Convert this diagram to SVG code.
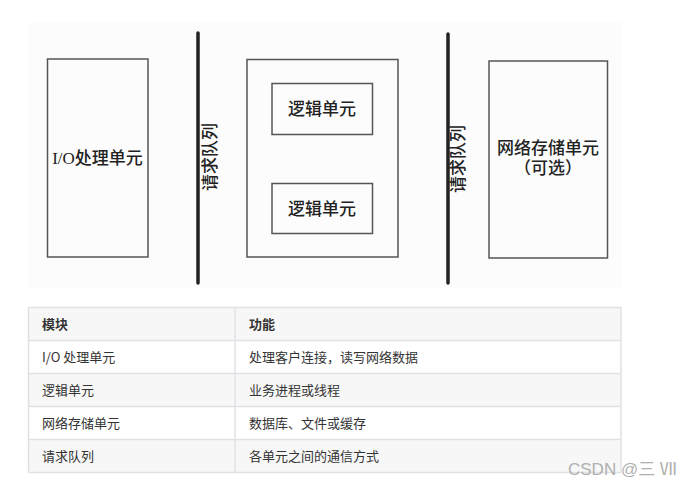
<svg xmlns="http://www.w3.org/2000/svg" width="693" height="486" viewBox="0 0 693 486">
<style>
.box{fill:none;stroke:#555;stroke-width:1.5}
.bar{stroke:#222;stroke-width:3.5;stroke-linecap:round}
.lbl{font-family:"Liberation Serif","Noto Sans CJK SC",serif;font-size:17px;fill:#222;text-anchor:middle;font-weight:500}
.t{font-family:"Noto Sans CJK SC","Liberation Sans",sans-serif;font-size:13px;fill:#333}
.th{font-weight:bold}
.grid{stroke:#dfe2e5;stroke-width:1.5}
</style>
<rect width="693" height="486" fill="#fff"/>
<rect x="28" y="22" width="594" height="266" fill="#fcfcfc"/>
<g id="connectors">
<line class="bar" x1="198" y1="33" x2="198" y2="283"/>
<line class="bar" x1="448" y1="34" x2="448" y2="283"/>
<text class="lbl" transform="translate(216,157) rotate(-90)">请求队列</text>
<text class="lbl" transform="translate(464,159) rotate(-90)">请求队列</text>
</g>
<g id="io">
<rect class="box" x="47.5" y="59" width="100.5" height="198"/>
<text class="lbl" x="97.5" y="164">I/O处理单元</text>
</g>
<g id="logic-group">
<rect class="box" x="247" y="59.5" width="151" height="197.5"/>
</g>
<g id="logic1">
<rect class="box" x="272" y="83.5" width="100.5" height="51"/>
<text class="lbl" x="322" y="115">逻辑单元</text>
</g>
<g id="logic2">
<rect class="box" x="272" y="183.5" width="100.5" height="50"/>
<text class="lbl" x="322" y="215">逻辑单元</text>
</g>
<g id="storage">
<rect class="box" x="489" y="61" width="118.5" height="197"/>
<text class="lbl" x="548" y="154">网络存储单元</text>
<text class="lbl" x="548" y="174">（可选）</text>
</g>
<g id="table">
<rect x="28.5" y="307.5" width="592.5" height="33" fill="#f7f7f7"/>
<rect x="28.5" y="340.5" width="592.5" height="33" fill="#fff"/>
<rect x="28.5" y="373.5" width="592.5" height="33" fill="#f7f7f7"/>
<rect x="28.5" y="406.5" width="592.5" height="33" fill="#fff"/>
<rect x="28.5" y="439.5" width="592.5" height="33" fill="#f7f7f7"/>
<g class="grid">
<line x1="28.5" y1="307.5" x2="621" y2="307.5"/>
<line x1="28.5" y1="340.5" x2="621" y2="340.5"/>
<line x1="28.5" y1="373.5" x2="621" y2="373.5"/>
<line x1="28.5" y1="406.5" x2="621" y2="406.5"/>
<line x1="28.5" y1="439.5" x2="621" y2="439.5"/>
<line x1="28.5" y1="472.5" x2="621" y2="472.5"/>
<line x1="28.5" y1="307.5" x2="28.5" y2="472.5"/>
<line x1="235" y1="307.5" x2="235" y2="472.5"/>
<line x1="621" y1="307.5" x2="621" y2="472.5"/>
</g>
<text class="t th" x="42" y="329">模块</text>
<text class="t th" x="249" y="329">功能</text>
<text class="t" x="42" y="362">I/O 处理单元</text>
<text class="t" x="249" y="362">处理客户连接，读写网络数据</text>
<text class="t" x="42" y="395">逻辑单元</text>
<text class="t" x="249" y="395">业务进程或线程</text>
<text class="t" x="42" y="428">网络存储单元</text>
<text class="t" x="249" y="428">数据库、文件或缓存</text>
<text class="t" x="42" y="461">请求队列</text>
<text class="t" x="249" y="461">各单元之间的通信方式</text>
</g>
<text x="568" y="475" font-family="'Liberation Sans','Noto Sans CJK SC',sans-serif" font-size="17" fill="#b0b0b0">CSDN @三 Ⅶ</text>
</svg>
